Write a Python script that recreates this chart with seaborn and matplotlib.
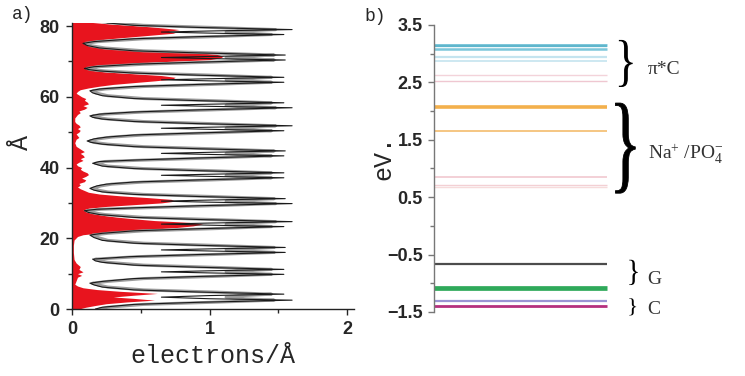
import numpy as np
import seaborn as sns
import matplotlib.pyplot as plt
from matplotlib.textpath import TextPath
from matplotlib.patches import PathPatch
from matplotlib.font_manager import FontProperties
from matplotlib.transforms import Affine2D

# ---- panel a) density profiles along z ----
prof_z = (
    [0.0, 0.5, 1.3, 1.9, 2.5, 2.9, 3.35, 3.8, 4.2, 4.8, 5.4, 6.2, 6.8, 7.3]
    + [7.8, 8.6, 9.2, 9.8, 10.2, 10.5, 10.8, 11.2, 11.8, 12.4, 13.2, 13.6, 14.1]
    + [14.8, 15.4, 16.0, 16.4, 16.7, 17.0, 17.4, 18.0, 18.6, 19.4, 20.2, 20.9]
    + [21.4, 22.1, 22.7, 23.3, 23.7, 24.0, 24.3, 24.7, 25.3, 25.9, 26.7, 27.3, 27.8]
    + [28.2, 28.6, 29.2, 29.8, 30.2, 30.5, 30.8, 31.2, 31.8, 32.4, 33.1, 33.6, 34.1]
    + [34.8, 35.3, 35.9, 36.5, 37.1, 37.5, 37.8, 38.1, 38.5, 39.1, 39.7, 40.4, 41.2]
    + [41.7, 42.1, 42.7, 43.3, 43.7, 44.0, 44.3, 44.7, 45.3, 45.9, 46.6, 47.1, 47.5]
    + [48.1, 48.6, 49.2, 49.8, 50.4, 50.8, 51.1, 51.4, 51.8, 52.4, 53.0, 53.7, 54.2, 54.6]
    + [55.1, 55.7, 56.3, 56.9, 57.3, 57.6, 57.9, 58.3, 58.9, 59.5, 60.3, 61.1, 61.7]
    + [62.2, 62.9, 63.5, 64.1, 64.5, 64.8, 65.1, 65.5, 66.1, 66.7, 67.3, 67.7, 68.0]
    + [68.5, 69.2, 69.8, 70.4, 70.8, 71.1, 71.4, 71.8, 72.4, 73.0, 73.8, 74.5, 75.1]
    + [75.6, 76.4, 77.0, 77.6, 78.0, 78.3, 78.6, 79.0, 79.6, 80.2, 81.0]
)
black_x = (
    [0.17, 0.22, 0.45, 0.92, 1.60, 1.00, 0.65, 1.00, 1.54, 0.92, 0.45, 0.22, 0.16, 0.13]
    + [0.22, 0.45, 0.92, 1.54, 1.00, 0.65, 1.00, 1.54, 0.92, 0.45, 0.22, 0.17, 0.15]
    + [0.42, 0.92, 1.55, 1.00, 0.65, 1.00, 1.55, 0.92, 0.45, 0.22, 0.16, 0.13]
    + [0.22, 0.45, 0.92, 1.54, 1.00, 0.65, 1.00, 1.60, 0.92, 0.45, 0.20, 0.12, 0.09]
    + [0.18, 0.45, 0.92, 1.60, 1.00, 0.65, 1.00, 1.55, 0.92, 0.45, 0.22, 0.16, 0.13]
    + [0.18, 0.25, 0.45, 0.92, 1.54, 1.00, 0.65, 1.00, 1.54, 0.92, 0.45, 0.22, 0.15]
    + [0.20, 0.45, 0.92, 1.54, 1.00, 0.65, 1.00, 1.55, 0.92, 0.45, 0.22, 0.14, 0.11]
    + [0.16, 0.25, 0.45, 0.92, 1.54, 1.00, 0.65, 1.00, 1.60, 0.92, 0.45, 0.22, 0.15, 0.13]
    + [0.20, 0.45, 0.92, 1.60, 1.00, 0.65, 1.00, 1.54, 0.92, 0.45, 0.22, 0.15, 0.13]
    + [0.20, 0.45, 0.92, 1.54, 1.00, 0.65, 1.00, 1.54, 0.92, 0.45, 0.20, 0.12, 0.09]
    + [0.16, 0.45, 0.92, 1.55, 1.00, 0.65, 1.00, 1.55, 0.92, 0.45, 0.20, 0.11, 0.08]
    + [0.16, 0.45, 0.92, 1.54, 1.00, 0.65, 1.00, 1.60, 0.92, 0.45, 0.22]
)
gray_x = (
    [0.20, 0.26, 0.52, 1.02, 1.47, 1.25, 1.12, 1.25, 1.45, 1.02, 0.52, 0.26, 0.19, 0.15]
    + [0.26, 0.52, 1.02, 1.45, 1.25, 1.12, 1.25, 1.45, 1.02, 0.52, 0.26, 0.20, 0.17]
    + [0.48, 1.02, 1.47, 1.25, 1.12, 1.25, 1.47, 1.02, 0.52, 0.26, 0.19, 0.15]
    + [0.26, 0.52, 1.02, 1.45, 1.25, 1.12, 1.25, 1.48, 1.02, 0.52, 0.24, 0.14, 0.11]
    + [0.21, 0.52, 1.02, 1.48, 1.25, 1.12, 1.25, 1.47, 1.02, 0.52, 0.26, 0.19, 0.15]
    + [0.21, 0.29, 0.52, 1.02, 1.45, 1.25, 1.12, 1.25, 1.45, 1.02, 0.52, 0.26, 0.17]
    + [0.24, 0.52, 1.02, 1.45, 1.25, 1.12, 1.25, 1.47, 1.02, 0.52, 0.26, 0.16, 0.13]
    + [0.19, 0.29, 0.52, 1.02, 1.45, 1.25, 1.12, 1.25, 1.48, 1.02, 0.52, 0.26, 0.17, 0.15]
    + [0.24, 0.52, 1.02, 1.48, 1.25, 1.12, 1.25, 1.45, 1.02, 0.52, 0.26, 0.17, 0.15]
    + [0.24, 0.52, 1.02, 1.45, 1.25, 1.12, 1.25, 1.45, 1.02, 0.52, 0.24, 0.14, 0.11]
    + [0.19, 0.52, 1.02, 1.47, 1.25, 1.12, 1.25, 1.47, 1.02, 0.52, 0.24, 0.13, 0.10]
    + [0.19, 0.52, 1.02, 1.45, 1.25, 1.12, 1.25, 1.48, 1.02, 0.52, 0.26]
)

red_z = [0.0, 0.5, 1.0, 1.5, 2.0, 2.5, 3.0, 3.4, 3.9, 4.4, 5.0, 5.5, 6.0, 6.5, 7.0,
         8.0, 9.0, 9.5, 10.0, 10.5, 11.2, 12.0, 13.0, 14.0, 16.0, 18.0, 19.5, 20.5,
         21.0, 21.5, 22.0, 22.5, 23.0, 23.5, 24.0, 24.5, 25.0, 25.5, 26.0, 26.5, 27.0,
         27.5, 28.0, 28.5, 29.0, 29.5, 30.0, 30.5, 31.0, 31.5, 32.0, 32.5, 33.0, 33.5,
         34.0, 34.5, 35.0, 35.5, 36.0, 36.5, 37.0, 37.5, 38.0, 38.5, 39.0, 39.5, 40.0,
         40.5, 41.0, 41.5, 42.0, 42.5, 43.0, 43.5, 44.0, 44.5, 45.0, 45.5, 46.0, 47.0,
         48.0, 48.5, 49.0, 49.5, 50.0, 50.5, 51.0, 51.5, 52.0, 52.5, 53.0, 54.0, 55.0,
         55.5, 56.0, 56.5, 57.0, 57.5, 58.0, 58.5, 59.0, 59.5, 60.0, 60.5, 61.0, 61.5,
         62.0, 62.5, 63.0, 63.5, 64.0, 64.5, 65.0, 65.5, 66.0, 66.5, 67.0, 67.5, 68.0,
         68.5, 69.0, 69.5, 70.0, 70.5, 71.0, 71.5, 72.0, 72.5, 73.0, 73.5, 74.0, 74.5,
         75.1, 75.5, 76.0, 76.5, 77.0, 77.5, 78.0, 78.5, 79.0, 79.5, 80.0, 80.5, 81.0]
red_x = [0.05, 0.10, 0.17, 0.25, 0.40, 0.60, 0.45, 0.30, 0.45, 0.62, 0.35, 0.18, 0.08, 0.04, 0.02,
         0.03, 0.04, 0.07, 0.04, 0.08, 0.05, 0.06, 0.03, 0.015, 0.01, 0.01, 0.015, 0.04,
         0.08, 0.20, 0.35, 0.55, 0.75, 0.88, 0.95, 0.85, 0.60, 0.45, 0.32, 0.22, 0.15,
         0.10, 0.08, 0.12, 0.25, 0.45, 0.65, 0.75, 0.72, 0.55, 0.35, 0.20, 0.12, 0.09,
         0.06, 0.04, 0.06, 0.05, 0.09, 0.10, 0.07, 0.10, 0.12, 0.11, 0.08, 0.06, 0.07,
         0.04, 0.03, 0.05, 0.08, 0.06, 0.09, 0.08, 0.06, 0.09, 0.07, 0.05, 0.03, 0.02,
         0.03, 0.05, 0.04, 0.03, 0.05, 0.06, 0.04, 0.06, 0.05, 0.03, 0.02, 0.02, 0.04,
         0.06, 0.05, 0.09, 0.11, 0.08, 0.12, 0.11, 0.09, 0.10, 0.07, 0.05, 0.03, 0.04,
         0.06, 0.12, 0.20, 0.30, 0.45, 0.60, 0.73, 0.75, 0.65, 0.45, 0.25, 0.14, 0.10,
         0.14, 0.25, 0.45, 0.70, 1.00, 1.08, 1.10, 1.05, 0.90, 0.65, 0.40, 0.22, 0.12,
         0.08, 0.10, 0.18, 0.30, 0.45, 0.60, 0.75, 0.70, 0.78, 0.65, 0.50, 0.30, 0.15]

# ---- panel b) energy levels (eV) ----
levels = [3.16, 3.14, 3.09, 2.95, 2.87, 2.63, 2.52, 2.08, 1.66,
          0.85, 0.72, 0.67, -0.66, -1.09, -1.30, -1.40]
level_colors = ["#74c4d8", "#5fb6cc", "#7cc6da", "#c4e4ef", "#cde8f1", "#f3d3da", "#efc7d1",
                "#f3b04c", "#f5c278", "#f0c4cb", "#f3d0d4", "#f6dbdb",
                "#4c4c4c", "#2fa95a", "#9a94d4", "#b5307e"]
level_widths = [2.0, 1.6, 1.8, 1.6, 1.4, 1.0, 1.0, 2.6, 1.3, 1.1, 1.0, 1.0, 1.6, 3.4, 1.6, 2.0]

groups = ["π*C", "Na$^{+}$ /PO$_{4}^{-}$", "G", "C"]
group_y = [2.72, 1.24, -0.94, -1.45]
brace_lo = [2.42, 0.57, -1.03, -1.56]
brace_hi = [3.24, 2.14, -0.59, -1.26]

sns.set_style("ticks")
plt.rcParams["font.family"] = ["Liberation Sans", "DejaVu Sans"]
plt.rcParams["mathtext.fontset"] = "custom"
plt.rcParams["mathtext.rm"] = "Liberation Serif"
plt.rcParams["mathtext.it"] = "Liberation Serif:italic"

fig = plt.figure(figsize=(7.45, 3.76), dpi=100)
W, H = 745, 376

# panel a
ax1 = fig.add_axes([72 / W, 67 / H, 282 / W, 286.5 / H])
ax1.fill_betweenx(red_z, 0, red_x, color="#e8141e", lw=0)
sns.lineplot(x=gray_x, y=prof_z, sort=False, estimator=None, orient="y",
             color="#9c9c9c", lw=2.2, ax=ax1)
sns.lineplot(x=black_x, y=prof_z, sort=False, estimator=None, orient="y",
             color="#1a1a1a", lw=0.8, ax=ax1)
ax1.set_xlim(0, 2.05)
ax1.set_ylim(0, 81)
ax1.set_xticks([0, 1, 2])
ax1.set_xticks([0.5, 1.5], minor=True)
ax1.set_yticks([0, 20, 40, 60, 80])
ax1.set_yticks([10, 30, 50, 70], minor=True)
sns.despine(ax=ax1)
for s in ["left", "bottom"]:
    ax1.spines[s].set_color("#222222")
    ax1.spines[s].set_linewidth(1.0)
ax1.tick_params(which="major", length=4, width=1, labelsize=13, pad=5)
ax1.tick_params(which="minor", length=3, width=1)
for lab in ax1.get_xticklabels() + ax1.get_yticklabels():
    lab.set_fontweight("bold")
ax1.set_xlabel("electrons/Å", family="Liberation Mono", fontsize=18, labelpad=4)
ax1.set_ylabel("Å", family="Liberation Mono", fontsize=18)
ax1.yaxis.set_label_coords(-0.138, 0.58)

# panel b
ax2 = fig.add_axes([434 / W, 64 / H, 311 / W, 287 / H])
ax2.hlines(levels, 0.0, 1.0, colors=level_colors, lw=level_widths)
ax2.set_xlim(0, 1.8)
ax2.set_ylim(-1.5, 3.5)
ax2.set_yticks([-1.5, -0.5, 0.5, 1.5, 2.5, 3.5])
ax2.set_yticks([-1, 0, 1, 2, 3], minor=True)
ax2.set_xticks([])
sns.despine(ax=ax2, bottom=True)
ax2.spines["left"].set_color("#777777")
ax2.spines["left"].set_linewidth(1.0)
ax2.tick_params(which="major", length=4, width=1, color="#777777", labelsize=13, pad=4)
ax2.tick_params(which="minor", length=3, width=1, color="#777777")
for lab in ax2.get_yticklabels():
    lab.set_fontweight("bold")
ax2.set_ylabel("eV.", family="Liberation Mono", fontsize=18)
ax2.yaxis.set_label_coords(-0.125, 0.54)


def brace(ax, x0, x1, y0, y1, edge=0.0):
    fp = FontProperties(family="Liberation Serif")
    tp = TextPath((0, 0), "}", size=1, prop=fp)
    bb = tp.get_extents()
    tr = (Affine2D().translate(-bb.x0, -bb.y0)
          .scale((x1 - x0) / bb.width, (y1 - y0) / bb.height)
          .translate(x0, y0))
    ax.add_patch(PathPatch(tr.transform_path(tp), facecolor="black", edgecolor="black",
                           lw=edge, clip_on=False))


brace_x = [(1.07, 1.15, 0.0), (1.05, 1.165, 0.6), (1.13, 1.18, 0.0), (1.13, 1.17, 0.0)]
for (bx0, bx1, edge), lo, hi in zip(brace_x, brace_lo, brace_hi):
    brace(ax2, bx0, bx1, lo, hi, edge)
for g, gy in zip(groups, group_y):
    ax2.text(1.237, gy, g, family="Liberation Serif", fontsize=14, color="#333333",
             va="center", ha="left")

fig.text(12 / W, 1 - 19 / H, "a)", family="Liberation Mono", fontsize=13)
fig.text(364 / W, 1 - 21 / H, "b)", family="Liberation Mono", fontsize=13)

fig.savefig("out.png", dpi=100)
